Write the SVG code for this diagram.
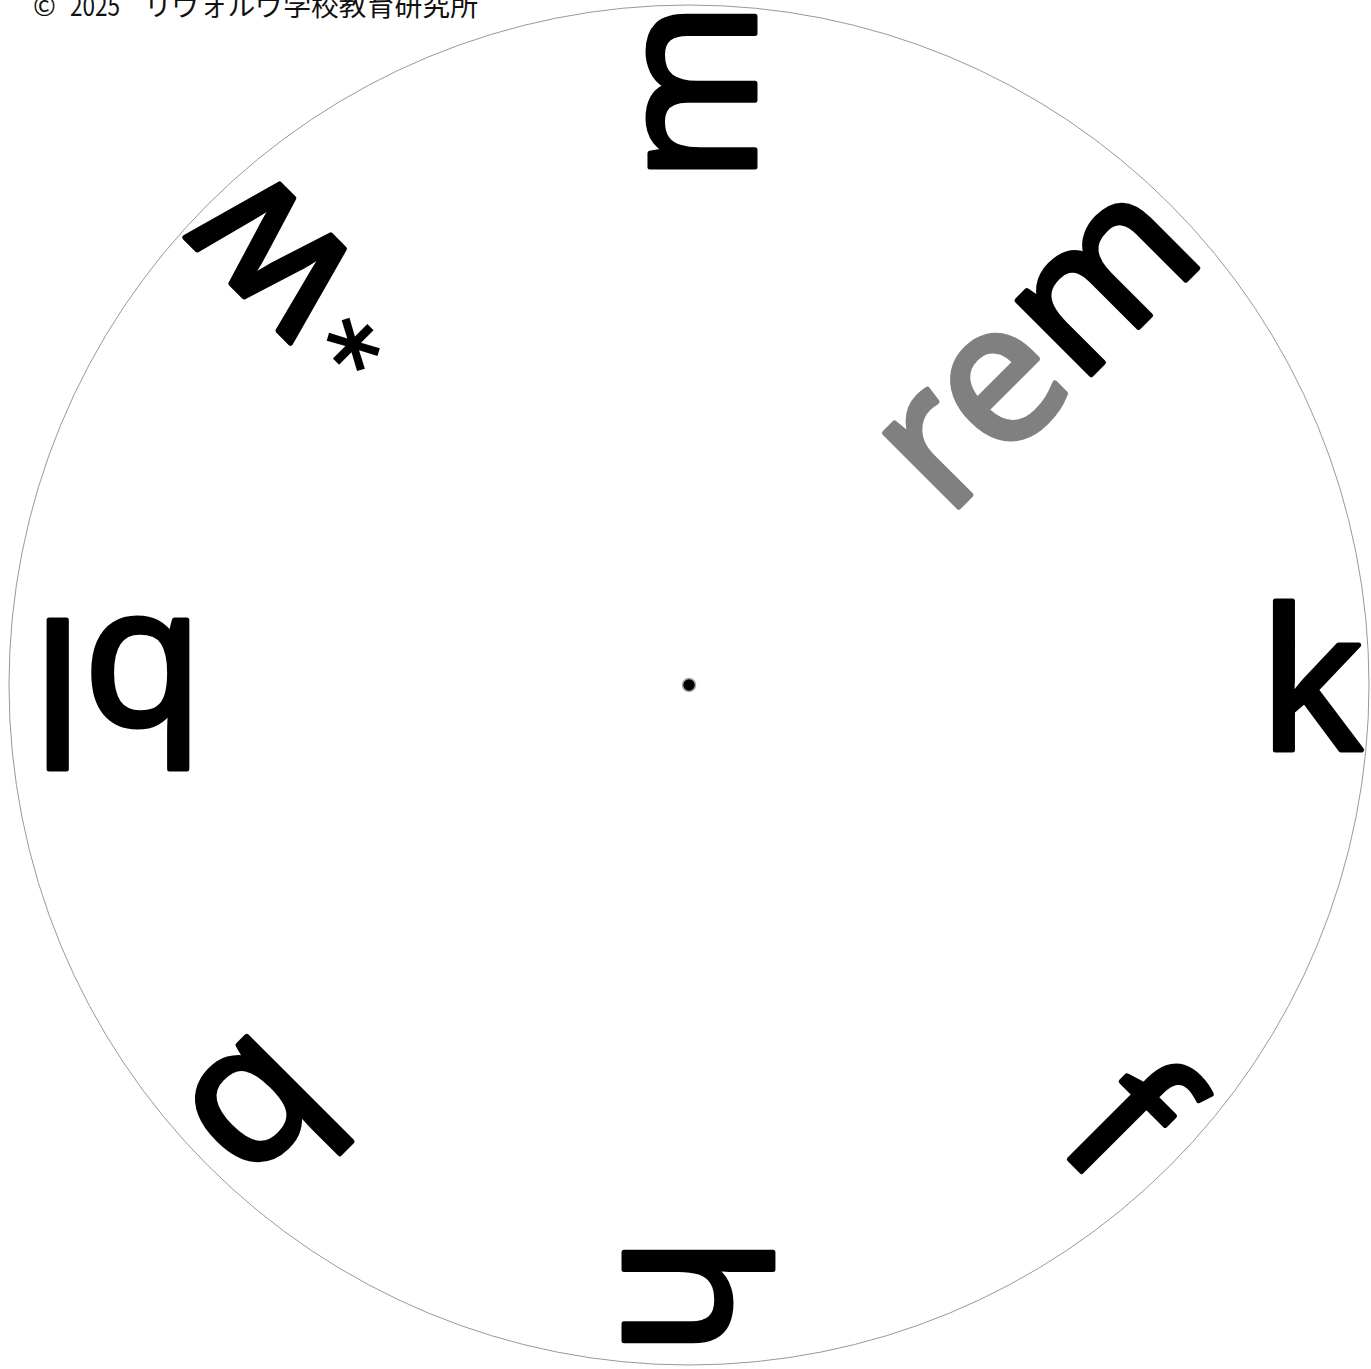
<svg xmlns="http://www.w3.org/2000/svg" width="1371" height="1369" viewBox="0 0 1371 1369">
  <style>
    .lt { font-family: "Noto Sans", "DejaVu Sans", sans-serif; font-size: 196px; fill: #000; stroke: #000; stroke-width: 5; stroke-linejoin: round; text-anchor: middle; }
    .gray { fill: #808080; stroke: #808080; }
    .ast { font-family: "DejaVu Sans", sans-serif; font-size: 105px; font-weight: bold; fill: #000; text-anchor: middle; }
    .copy { font-family: "Noto Sans CJK JP", "Noto Sans", sans-serif; font-size: 27.5px; fill: #111; }
  </style>
  <rect width="1371" height="1369" fill="#fff"/>
  <g id="wheel">
    <circle cx="689" cy="685" r="680" fill="none" stroke="#999" stroke-width="1"/>
    <circle cx="689" cy="685" r="6.5" fill="#000" stroke="#aaa" stroke-width="1.5"/>
  </g>
  <g id="copyright">
    <text class="copy" y="16"><tspan x="33">©</tspan><tspan x="70" textLength="50" lengthAdjust="spacingAndGlyphs">2025</tspan><tspan x="144" textLength="334" lengthAdjust="spacingAndGlyphs">リヴォルヴ学校教育研究所</tspan></text>
  </g>
  <g id="node-k" transform="translate(1311,750) rotate(0)">
    <text class="lt" x="0" y="0">k</text>
  </g>
  <g id="node-f" transform="translate(1078,1168) rotate(45)">
    <text class="lt" x="0" y="0">f</text>
  </g>
  <g id="node-h" transform="translate(624,1296) rotate(90)">
    <text class="lt" x="0" y="0">h</text>
  </g>
  <g id="node-b" transform="translate(216,1067) rotate(135)">
    <text class="lt" x="0" y="0">b</text>
  </g>
  <g id="node-bl" transform="translate(118,620) rotate(180)">
    <text class="lt" x="0" y="0">bl</text>
  </g>
  <g id="node-w" transform="translate(312,216) rotate(-135)">
    <text class="ast" x="-120" y="-8">*</text>
    <text class="lt" x="0" y="0">w</text>
  </g>
  <g id="node-m" transform="translate(755,92) rotate(-90)">
    <text class="lt" x="0" y="0">m</text>
  </g>
  <g id="node-rem" transform="translate(1078,388) rotate(-45)">
    <text class="lt" x="0" y="0"><tspan class="gray">re</tspan>m</text>
  </g>
  <g id="connectors"/>
</svg>
